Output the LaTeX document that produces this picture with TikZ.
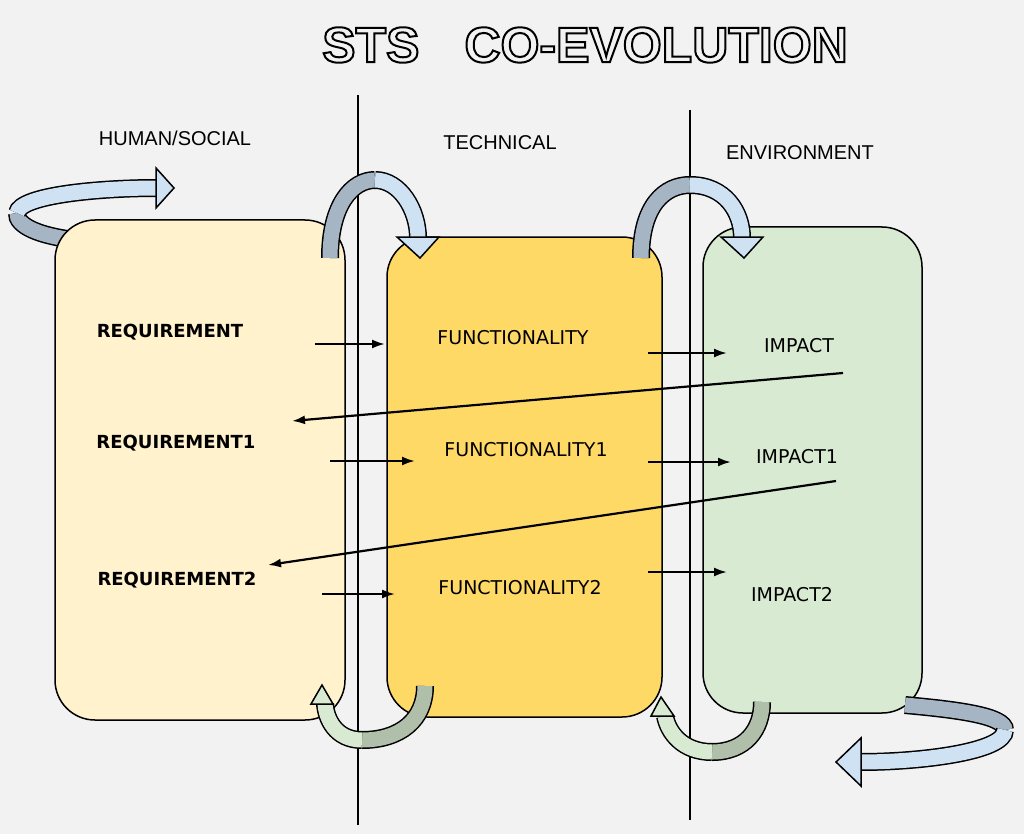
\documentclass[tikz,border=0pt]{standalone}
\usepackage{fontspec}
\setmainfont{Liberation Sans}
\newfontfamily\lblfont{DejaVu Sans}
\usetikzlibrary{arrows.meta}
\definecolor{bg}{HTML}{F2F2F2}
\definecolor{reqc}{HTML}{FFF2CC}
\definecolor{func}{HTML}{FFD966}
\definecolor{envc}{HTML}{D9EAD3}
\definecolor{bluea}{HTML}{CFE2F3}
\definecolor{grayb}{HTML}{A6B5C4}
\definecolor{greena}{HTML}{D9EAD3}
\definecolor{greenb}{HTML}{B0BFAA}
\newcommand{\outlinedtext}[1]{\special{pdf:literal direct q 2 Tr 2 w 0 0 0 RG 0.95 0.95 0.95 rg}#1\special{pdf:literal direct Q}}
\tikzset{
 panel/.style={draw=black,line width=1.5pt,rounded corners=40pt},
 lbl/.style={font=\lblfont\fontsize{19}{22}\selectfont},
 blbl/.style={font=\lblfont\bfseries\fontsize{18}{22}\selectfont},
 hdr/.style={font=\fontsize{20}{24}\selectfont},
 flow/.style={-{Latex[length=13pt,width=9pt]},line width=2.2pt},
 band/.style={double=#1,double distance=15pt,line width=1.5pt},
 head/.style={draw=black,fill=#1,line width=1.5pt,line join=miter}
}
\begin{document}
\begin{tikzpicture}[x=1pt,y=-1pt]
\fill[bg] (0,0) rectangle (1024,834);
\useasboundingbox (0,0) rectangle (1024,834);
\node (t) at (585,45) {\fontsize{50}{54}\selectfont\bfseries\outlinedtext{STS\hspace{45pt}CO-EVOLUTION}};
\node[hdr] (h1) at (175,138) {HUMAN/SOCIAL};
\node[hdr] (h2) at (500,143) {TECHNICAL};
\node[hdr] (h3) at (800,153) {ENVIRONMENT};
\draw[band=grayb] (75,240) .. controls (40,236) and (16,226) .. (17,213);
\draw[band=bluea] (17,213) .. controls (20,195) and (100,188) .. (157,188);
\draw[head=bluea] (156,168) -- (174,188) -- (156,208) -- cycle;
\draw[panel,fill=reqc] (55,220) rectangle (345,720);
\draw[panel,fill=func] (387,237) rectangle (662,717);
\draw[panel,fill=envc] (703,227) rectangle (922,713);
\draw[line width=2.8pt] (358,95) -- (358,825);
\draw[line width=1.8pt] (690,110) -- (690,820);
\draw[band=grayb] (905,705) .. controls (960,710) and (1005,716) .. (1005,730);
\draw[band=bluea] (1005,730) .. controls (1005,752) and (920,762) .. (860,762);
\draw[head=bluea] (861,738) -- (836,762) -- (861,786) -- cycle;
\draw[band=grayb] (330,258) .. controls (330,205) and (352,180) .. (375,180);
\draw[band=bluea] (375,180) .. controls (400,180) and (418,210) .. (418,238);
\draw[head=bluea] (397,237) -- (439,237) -- (420,258) -- cycle;
\draw[band=grayb] (641,258) .. controls (641,205) and (665,185) .. (690,185);
\draw[band=bluea] (690,185) .. controls (725,185) and (742,212) .. (742,238);
\draw[head=bluea] (721,237) -- (763,237) -- (744,258) -- cycle;
\draw[band=greenb] (425,686) .. controls (425,720) and (400,740) .. (362,740);
\draw[band=greena] (362,740) .. controls (335,740) and (326,718) .. (325,704);
\draw[head=greena] (311,704) -- (333,704) -- (322,685) -- cycle;
\draw[band=greenb] (762,702) .. controls (762,730) and (745,752) .. (712,752);
\draw[band=greena] (712,752) .. controls (682,752) and (668,732) .. (665,716);
\draw[head=greena] (651,716) -- (674,716) -- (661,697) -- cycle;
\node[blbl] (r0) at (170,332) {REQUIREMENT};
\node[blbl] (r1) at (176,443) {REQUIREMENT1};
\node[blbl] (r2) at (177,580) {REQUIREMENT2};
\node[lbl] (f0) at (513,338) {FUNCTIONALITY};
\node[lbl] (f1) at (526,450) {FUNCTIONALITY1};
\node[lbl] (f2) at (520,588) {FUNCTIONALITY2};
\node[lbl] (i0) at (799,346) {IMPACT};
\node[lbl] (i1) at (797,457) {IMPACT1};
\node[lbl] (i2) at (792,595) {IMPACT2};
\coordinate (a1) at (315,344); \coordinate (a2) at (385,344);
\coordinate (b1) at (330,461); \coordinate (b2) at (415,461);
\coordinate (c1) at (322,594); \coordinate (c2) at (395,594);
\coordinate (d1) at (648,353); \coordinate (d2) at (727,353);
\coordinate (e1) at (648,462); \coordinate (e2) at (731,462);
\coordinate (g1) at (648,572); \coordinate (g2) at (727,572);
\coordinate (k1) at (843,373); \coordinate (k2) at (292,421);
\coordinate (m1) at (836,481); \coordinate (m2) at (268,565);
\draw[flow] (a1) -- (a2);
\draw[flow] (b1) -- (b2);
\draw[flow] (c1) -- (c2);
\draw[flow] (d1) -- (d2);
\draw[flow] (e1) -- (e2);
\draw[flow] (g1) -- (g2);
\draw[flow] (k1) -- (k2);
\draw[flow] (m1) -- (m2);
\end{tikzpicture}
\end{document}
